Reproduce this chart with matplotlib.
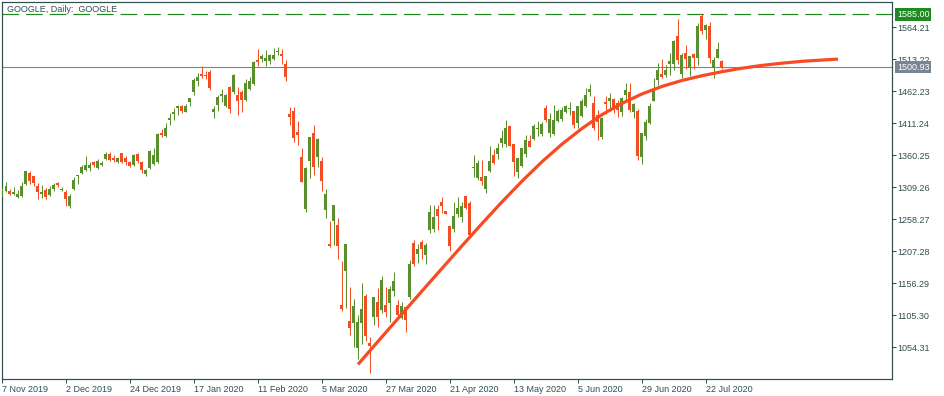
import matplotlib
matplotlib.use("Agg")
import matplotlib.pyplot as plt
import matplotlib.transforms as mtransforms
import numpy as np

# ---------------- data ----------------
opens = [1294.3, 1303.4, 1303.9, 1298.3, 1293.3, 1295.4, 1314.5, 1332.6, 1327.0, 1311.9,
         1298.5, 1305.0, 1296.9, 1306.0, 1316.6, 1304.5, 1301.2, 1279.5, 1306.0, 1327.0,
         1332.6, 1336.8, 1340.6, 1349.5, 1340.6, 1344.8, 1354.4, 1362.3, 1356.5, 1349.6,
         1364.0, 1356.0, 1350.1, 1344.8, 1362.3, 1349.6, 1329.9, 1340.6, 1346.4, 1349.0,
         1395.8, 1391.0, 1416.5, 1426.1, 1435.6, 1438.8, 1429.2, 1445.2, 1461.1, 1478.6,
         1489.8, 1488.2, 1493.5, 1429.2, 1440.4, 1454.7, 1438.8, 1469.6, 1461.1, 1456.3,
         1461.6, 1448.4, 1465.9, 1473.9, 1512.1, 1514.2, 1511.0, 1511.0, 1514.2, 1525.0,
         1521.7, 1505.7, 1426.1, 1430.8, 1397.4, 1357.6, 1274.7, 1351.7, 1395.8, 1357.6,
         1351.2, 1273.6, 1219.0, 1256.1, 1249.2, 1121.7, 1176.5, 1096.3, 1093.6, 1053.3,
         1093.6, 1136.6, 1061.3, 1103.2, 1126.0, 1113.8, 1121.7, 1124.4, 1144.6, 1121.7,
         1100.5, 1119.1, 1135.0, 1220.0, 1203.0, 1222.1, 1201.4, 1241.2, 1242.3, 1274.2,
         1286.4, 1271.5, 1247.6, 1242.8, 1266.7, 1262.5, 1295.4, 1283.7, 1339.5, 1324.6,
         1326.2, 1307.1, 1335.3, 1360.7, 1362.3, 1380.4, 1377.7, 1407.0, 1378.3, 1334.2,
         1343.7, 1361.8, 1383.1, 1385.7, 1402.5, 1394.7, 1436.2, 1395.3, 1394.2, 1414.9,
         1418.1, 1428.7, 1434.5, 1430.8, 1411.2, 1422.9, 1438.8, 1460.6, 1443.1, 1424.5,
         1388.9, 1445.2, 1447.2, 1449.2, 1444.0, 1429.0, 1455.6, 1461.5, 1429.9, 1431.4,
         1358.2, 1390.4, 1411.1, 1446.9, 1480.1, 1490.0, 1488.5, 1506.5, 1506.2, 1550.0,
         1490.3, 1523.1, 1500.0, 1521.6, 1515.3, 1582.8, 1560.5, 1567.0, 1498.9, 1515.6,
         1511.0]
highs = [1314.0, 1317.7, 1306.0, 1309.8, 1305.0, 1317.7, 1335.2, 1335.2, 1327.3, 1316.0,
         1312.9, 1307.6, 1311.4, 1315.6, 1318.2, 1309.7, 1305.0, 1298.0, 1325.2, 1329.0,
         1344.8, 1359.1, 1349.6, 1350.5, 1354.4, 1351.7, 1365.5, 1365.0, 1360.2, 1358.0,
         1364.5, 1359.7, 1351.2, 1362.3, 1363.4, 1351.2, 1338.4, 1368.0, 1371.9, 1395.8,
         1402.2, 1411.2, 1427.7, 1435.6, 1440.9, 1440.9, 1442.0, 1452.1, 1482.9, 1491.9,
         1502.5, 1495.1, 1495.6, 1439.3, 1456.3, 1465.9, 1457.9, 1471.2, 1490.3, 1469.1,
         1463.8, 1481.8, 1485.0, 1510.0, 1529.6, 1521.7, 1528.0, 1521.7, 1531.2, 1532.3,
         1529.6, 1512.1, 1437.2, 1437.2, 1414.9, 1371.9, 1341.0, 1389.4, 1408.5, 1387.8,
         1357.6, 1306.6, 1255.6, 1281.1, 1260.4, 1191.9, 1219.7, 1150.4, 1131.3, 1105.8,
         1156.8, 1139.3, 1071.3, 1135.0, 1149.4, 1168.5, 1150.9, 1152.0, 1174.8, 1129.7,
         1126.0, 1119.5, 1193.4, 1225.3, 1218.9, 1225.3, 1220.0, 1281.1, 1281.1, 1281.1,
         1293.3, 1272.0, 1248.0, 1285.3, 1293.8, 1285.3, 1296.0, 1288.0, 1360.0, 1352.8,
         1352.8, 1327.3, 1375.1, 1370.3, 1379.3, 1400.6, 1416.5, 1407.5, 1378.8, 1356.5,
         1371.0, 1392.6, 1392.6, 1410.1, 1414.9, 1413.9, 1439.9, 1427.2, 1440.4, 1433.5,
         1437.7, 1440.4, 1445.7, 1431.0, 1438.8, 1450.0, 1467.0, 1473.9, 1454.7, 1432.4,
         1421.8, 1455.0, 1460.0, 1451.4, 1447.8, 1452.8, 1475.9, 1475.4, 1442.9, 1433.5,
         1395.6, 1418.7, 1443.0, 1483.0, 1506.6, 1514.4, 1504.0, 1522.7, 1543.8, 1577.1,
         1523.0, 1535.3, 1518.7, 1523.4, 1570.3, 1585.0, 1570.0, 1571.9, 1517.6, 1541.0,
         1512.5]
lows = [1291.0, 1302.3, 1296.5, 1296.5, 1292.8, 1294.3, 1312.9, 1314.5, 1311.9, 1291.2,
        1291.7, 1290.6, 1295.4, 1303.4, 1309.2, 1303.9, 1279.5, 1276.8, 1304.4, 1314.5,
        1331.0, 1335.8, 1335.8, 1342.0, 1338.4, 1343.7, 1352.2, 1350.6, 1349.1, 1348.5,
        1348.5, 1344.8, 1341.6, 1343.2, 1348.5, 1332.6, 1327.8, 1339.0, 1344.8, 1347.5,
        1390.0, 1389.4, 1408.5, 1416.5, 1424.5, 1427.7, 1428.7, 1438.8, 1456.3, 1471.2,
        1483.4, 1481.8, 1463.8, 1419.7, 1430.8, 1445.2, 1436.7, 1427.7, 1458.5, 1424.5,
        1429.3, 1447.3, 1464.3, 1472.0, 1503.1, 1508.4, 1503.1, 1506.3, 1512.1, 1520.6,
        1506.3, 1478.6, 1409.1, 1382.0, 1376.2, 1317.0, 1270.0, 1324.6, 1329.4, 1342.2,
        1303.9, 1260.9, 1214.7, 1217.3, 1195.6, 1112.7, 1117.5, 1074.5, 1055.4, 1035.7,
        1060.1, 1064.9, 1013.5, 1089.9, 1086.0, 1108.5, 1103.2, 1095.2, 1136.6, 1102.1,
        1098.9, 1079.2, 1130.8, 1183.9, 1188.1, 1195.0, 1186.5, 1235.9, 1238.6, 1241.2,
        1268.9, 1266.0, 1208.3, 1238.6, 1262.5, 1254.5, 1274.2, 1229.6, 1325.3, 1320.9,
        1312.9, 1299.7, 1333.7, 1347.0, 1354.4, 1373.5, 1374.0, 1375.0, 1327.8, 1323.6,
        1342.1, 1358.1, 1373.0, 1384.7, 1391.0, 1391.5, 1413.3, 1390.0, 1393.1, 1413.8,
        1414.9, 1427.2, 1424.5, 1403.2, 1404.3, 1421.8, 1437.7, 1455.3, 1400.6, 1384.6,
        1386.2, 1425.9, 1431.4, 1427.0, 1421.4, 1423.2, 1445.2, 1429.8, 1420.0, 1352.0,
        1347.0, 1384.0, 1409.8, 1446.4, 1472.9, 1483.6, 1484.4, 1488.1, 1496.5, 1505.2,
        1483.5, 1498.0, 1486.3, 1498.4, 1503.6, 1554.3, 1546.1, 1507.4, 1483.2, 1515.6,
        1497.5]
closes = [1308.9, 1311.4, 1299.2, 1301.0, 1298.0, 1311.5, 1334.9, 1319.0, 1315.5, 1302.0,
          1302.3, 1293.5, 1306.7, 1313.3, 1312.4, 1305.0, 1290.5, 1295.5, 1320.7, 1328.1,
          1341.5, 1344.5, 1345.0, 1344.5, 1350.8, 1348.5, 1361.8, 1353.5, 1352.0, 1356.0,
          1349.0, 1348.8, 1343.6, 1360.4, 1351.9, 1336.1, 1337.0, 1367.4, 1360.7, 1394.2,
          1393.3, 1404.3, 1419.8, 1429.7, 1439.2, 1430.9, 1439.2, 1451.7, 1480.4, 1484.4,
          1486.0, 1486.7, 1466.7, 1433.9, 1452.6, 1458.6, 1455.8, 1434.2, 1487.5, 1447.1,
          1448.2, 1476.2, 1479.2, 1508.7, 1508.8, 1518.3, 1514.7, 1520.7, 1519.7, 1526.7,
          1518.2, 1485.1, 1421.6, 1388.5, 1393.2, 1318.1, 1339.3, 1389.1, 1341.4, 1386.5,
          1319.0, 1298.4, 1215.6, 1280.4, 1215.4, 1114.9, 1219.7, 1084.3, 1119.8, 1095.0,
          1115.3, 1072.3, 1056.6, 1134.5, 1102.5, 1161.7, 1110.7, 1146.8, 1160.0, 1105.6,
          1120.8, 1097.9, 1186.9, 1186.5, 1210.3, 1211.5, 1217.6, 1269.2, 1262.5, 1263.5,
          1279.0, 1266.6, 1216.3, 1263.2, 1276.3, 1279.3, 1275.9, 1233.7, 1341.5, 1348.7,
          1319.0, 1326.8, 1351.1, 1347.3, 1372.0, 1387.5, 1403.3, 1375.7, 1349.3, 1356.1,
          1371.5, 1383.9, 1373.5, 1406.7, 1403.7, 1410.4, 1417.0, 1417.8, 1416.7, 1430.5,
          1431.8, 1439.2, 1435.5, 1408.0, 1438.4, 1446.6, 1456.2, 1465.9, 1403.8, 1413.2,
          1419.9, 1442.7, 1451.1, 1436.0, 1431.7, 1451.9, 1464.4, 1432.0, 1441.3, 1359.9,
          1395.0, 1413.6, 1438.0, 1464.7, 1495.7, 1485.2, 1496.0, 1511.0, 1541.7, 1511.3,
          1520.6, 1513.6, 1518.0, 1515.6, 1565.7, 1558.4, 1568.5, 1515.7, 1511.9, 1530.2,
          1500.9]

# regression-like curve drawn on chart (bar index, price)
curve_bars = [89, 95, 100, 105, 110, 115, 120, 125, 130, 135, 140, 145, 150, 155,
              160, 165, 170, 175, 180, 185, 190, 195, 200, 205, 209]
curve_vals = [1027.0, 1071.0, 1107.5, 1144.0, 1180.0, 1216.0, 1251.5, 1286.0, 1319.0,
              1350.0, 1378.0, 1403.0, 1425.0, 1443.0, 1458.0, 1470.0, 1479.5, 1487.0,
              1493.5, 1499.0, 1503.5, 1507.0, 1510.0, 1512.0, 1513.5]

date_labels = ["7 Nov 2019", "2 Dec 2019", "24 Dec 2019", "17 Jan 2020", "11 Feb 2020",
               "5 Mar 2020", "27 Mar 2020", "21 Apr 2020", "13 May 2020", "5 Jun 2020",
               "29 Jun 2020", "22 Jul 2020"]
label_step = 16
price_ticks = [1054.31, 1105.30, 1156.29, 1207.28, 1258.27, 1309.26, 1360.25,
               1411.24, 1462.23, 1513.22, 1564.21]
high_level = 1585.00
bid_level = 1500.93
title = "GOOGLE, Daily:  GOOGLE"

# ---------------- style ----------------
FONT = "Liberation Sans"
FS = 6.5
TXT = "#2f4f4f"
UP = "#5a8f2e"
DOWN = "#f44d24"
CURVE = "#f74b24"
GREEN_LINE = "#1f8a1f"
BID = "#7a8593"
PX = 0.72  # one pixel in points at dpi 100

plt.rcParams["lines.scale_dashes"] = False
fig = plt.figure(figsize=(9.45, 3.96), dpi=100)
W, H = 945, 396
ax = fig.add_axes([2 / W, (H - 379) / H, 890 / W, 377 / H])

o = np.array(opens); h = np.array(highs); l = np.array(lows); c = np.array(closes)
x = np.arange(len(o))
up = c >= o
cols = np.where(up, UP, DOWN)

ax.vlines(x, l, h, colors=cols, linewidth=1.0 * PX, zorder=2)
body_lo = np.minimum(o, c)
body_h = np.maximum(np.abs(c - o), 1.6)
ax.bar(x, body_h, bottom=body_lo, width=0.75, color=cols, linewidth=0, zorder=3)

ax.plot(curve_bars, curve_vals, color=CURVE, linewidth=3.2 * PX, zorder=4,
        solid_capstyle="butt")

ax.axhline(high_level, color=GREEN_LINE, linewidth=1.2 * PX, dashes=(12, 5), zorder=1)
ax.axhline(bid_level, color=BID, linewidth=1.1 * PX, zorder=1)

ax.set_xlim(0, 222.5)
ax.set_ylim(1003.8, 1604.5)

for s in ax.spines.values():
    s.set_color(TXT)
    s.set_linewidth(1.2 * PX)

ax.set_xticks(np.arange(len(date_labels)) * label_step)
ax.set_xticklabels(date_labels, ha="left", fontfamily=FONT, fontsize=FS, color=TXT)
ax.tick_params(axis="x", direction="out", length=4 * PX, width=1 * PX, color=TXT, pad=1.5)

ax.yaxis.tick_right()
ax.set_yticks(price_ticks)
ax.set_yticklabels([f"{v:.2f}" for v in price_ticks], fontfamily=FONT, fontsize=FS, color=TXT)
ax.tick_params(axis="y", direction="out", length=4 * PX, width=1 * PX, color=TXT, pad=1.0)

ax.text(5 / 890, 1 - 7.5 / 377, title, transform=ax.transAxes, ha="left", va="center",
        fontfamily=FONT, fontsize=FS, color=TXT)

trans = mtransforms.blended_transform_factory(ax.transAxes, ax.transData)
for lvl, fc in ((high_level, GREEN_LINE), (bid_level, BID)):
    ax.text(1 + 5 / 890, lvl, f"{lvl:.2f}", transform=trans, ha="left", va="center",
            fontfamily=FONT, fontsize=FS, color="white", zorder=10, clip_on=False,
            bbox=dict(boxstyle="square,pad=0.2", fc=fc, ec="none"))

fig.savefig("out.png", dpi=100)
